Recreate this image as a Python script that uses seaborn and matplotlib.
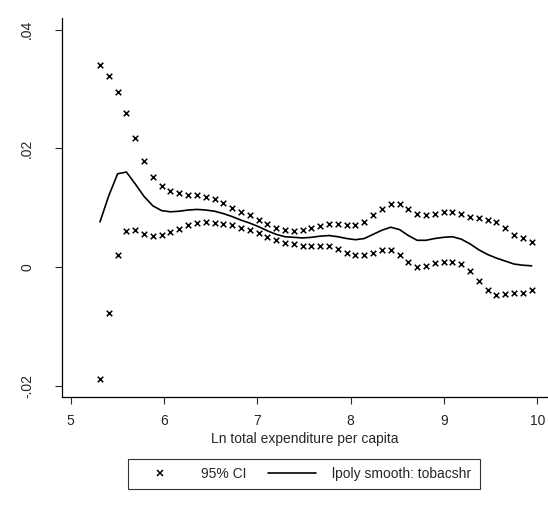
import matplotlib
matplotlib.use("Agg")
import matplotlib.pyplot as plt
import pandas as pd
import seaborn as sns
from matplotlib.lines import Line2D

# grid of log expenditure points (lpoly default 50-point grid)
grid_x = [5.314, 5.408, 5.503, 5.597, 5.692, 5.786, 5.881, 5.975, 6.069, 6.164,
          6.258, 6.353, 6.447, 6.542, 6.636, 6.730, 6.825, 6.919, 7.014, 7.108,
          7.203, 7.297, 7.391, 7.486, 7.580, 7.675, 7.769, 7.864, 7.958, 8.052,
          8.147, 8.241, 8.336, 8.430, 8.525, 8.619, 8.713, 8.808, 8.902, 8.997,
          9.091, 9.186, 9.280, 9.374, 9.469, 9.563, 9.658, 9.752, 9.847, 9.941]

# lpoly smooth of tobacco share
smooth = [0.0076, 0.0120, 0.0157, 0.0160, 0.0140, 0.0119, 0.0103, 0.0095, 0.0093, 0.0094,
          0.0096, 0.0097, 0.0096, 0.0094, 0.0090, 0.0085, 0.0079, 0.0074, 0.0068, 0.0061,
          0.0055, 0.0051, 0.0050, 0.0049, 0.0050, 0.0052, 0.0053, 0.0051, 0.0048, 0.0046,
          0.0048, 0.0055, 0.0062, 0.0067, 0.0063, 0.0053, 0.0045, 0.0045, 0.0048, 0.0050,
          0.0051, 0.0047, 0.0039, 0.0029, 0.0021, 0.0015, 0.0010, 0.0005, 0.0003, 0.0002]

# 95% CI bounds
ci_upper = [0.0340, 0.0322, 0.0294, 0.0259, 0.0217, 0.0179, 0.0152, 0.0137, 0.0128, 0.0124,
            0.0121, 0.0121, 0.0118, 0.0114, 0.0108, 0.0100, 0.0093, 0.0087, 0.0079, 0.0072,
            0.0065, 0.0062, 0.0061, 0.0062, 0.0065, 0.0069, 0.0072, 0.0072, 0.0071, 0.0070,
            0.0076, 0.0087, 0.0098, 0.0106, 0.0106, 0.0097, 0.0090, 0.0088, 0.0089, 0.0092,
            0.0093, 0.0090, 0.0085, 0.0082, 0.0080, 0.0076, 0.0065, 0.0054, 0.0049, 0.0042]
ci_lower = [-0.0189, -0.0077, 0.0020, 0.0061, 0.0062, 0.0055, 0.0052, 0.0054, 0.0059, 0.0064,
            0.0070, 0.0074, 0.0075, 0.0074, 0.0072, 0.0070, 0.0066, 0.0063, 0.0058, 0.0051,
            0.0045, 0.0040, 0.0038, 0.0036, 0.0036, 0.0036, 0.0035, 0.0030, 0.0024, 0.0020,
            0.0020, 0.0023, 0.0028, 0.0029, 0.0020, 0.0008, 0.0000, 0.0001, 0.0006, 0.0009,
            0.0009, 0.0005, -0.0007, -0.0024, -0.0039, -0.0047, -0.0045, -0.0044, -0.0043, -0.0039]

x_ticks = [5, 6, 7, 8, 9, 10]
y_ticks = [-0.02, 0, 0.02, 0.04]
y_ticklabels = ["-.02", "0", ".02", ".04"]

sns.set_style("white")
plt.rcParams['font.family'] = ['Liberation Sans', 'DejaVu Sans']
fs = 10

smooth_df = pd.DataFrame({'x': grid_x, 'y': smooth})
ci_df = pd.DataFrame({'x': grid_x + grid_x, 'y': ci_upper + ci_lower})

fig = plt.figure(figsize=(5.48, 5.08), dpi=100)
ax = fig.add_axes([62 / 548, 111 / 508, 485 / 548, 379 / 508])

sns.scatterplot(x='x', y='y', data=ci_df, ax=ax, marker='x', color='black',
                s=16, linewidth=1.1)
sns.lineplot(x='x', y='y', data=smooth_df, ax=ax, color='black', linewidth=1.2)

ax.set_xlim(4.907, 10.105)
ax.set_ylim(-0.0219, 0.04195)
ax.set_xticks(x_ticks)
ax.set_yticks(y_ticks)
ax.set_yticklabels(y_ticklabels, rotation=90, va='center')
ax.tick_params(axis='y', direction='out', length=5, width=0.8, pad=15,
               labelsize=fs, left=True)
ax.tick_params(axis='x', direction='out', length=5, width=0.8, pad=7,
               labelsize=fs, bottom=True)
sns.despine(ax=ax)
for side in ['left', 'bottom']:
    ax.spines[side].set_color('black')
    ax.spines[side].set_linewidth(0.9)

ax.set_xlabel('Ln total expenditure per capita', fontsize=fs, labelpad=3)
ax.set_ylabel('')

# legend with proxy artists
ci_handle = Line2D([], [], marker='x', color='black', linestyle='none',
                   markersize=4, markeredgewidth=1.1)
line_handle = Line2D([], [], color='black', linewidth=1.2)
leg = fig.legend([ci_handle, line_handle], ['95% CI', 'lpoly smooth: tobacshr'],
                 loc='center', bbox_to_anchor=(304 / 548, 1 - 474 / 508), ncol=2,
                 fancybox=False, frameon=True, fontsize=fs, handlelength=3.4,
                 columnspacing=1.6, handletextpad=1.2, borderpad=0.6,
                 borderaxespad=0)
leg.get_frame().set_edgecolor('black')
leg.get_frame().set_linewidth(0.8)

fig.savefig('out.png', dpi=100)
